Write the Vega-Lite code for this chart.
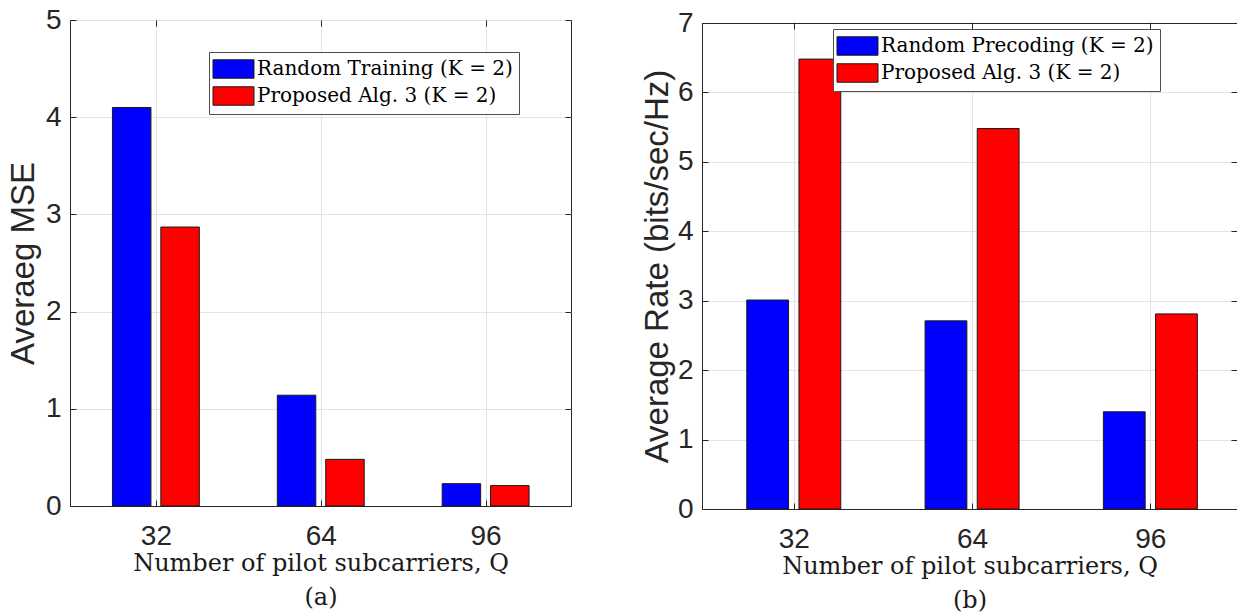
{
  "$schema": "https://vega.github.io/schema/vega-lite/v6.json",
  "autosize": {"type": "none"},
  "padding": {"left": 70, "top": 20, "right": 1167, "bottom": 592},
  "background": "white",
  "spacing": 131,
  "bounds": "flush",
  "config": {
    "view": {"stroke": "#262626", "strokeWidth": 1},
    "axis": {
      "labelFont": "Liberation Sans",
      "labelFontSize": 28,
      "labelColor": "#262626",
      "titleFont": "Liberation Sans",
      "titleFontSize": 33,
      "titleFontWeight": "normal",
      "titleColor": "#262626",
      "domainColor": "#262626",
      "tickColor": "#262626",
      "tickSize": -6,
      "gridColor": "#e3e3e3",
      "gridWidth": 1
    },
    "legend": {
      "orient": "none",
      "direction": "vertical",
      "title": null,
      "symbolType": "M-1.268,-0.9H2.732V0.9H-1.268Z",
      "symbolSize": 420,
      "symbolStrokeColor": "#1a1a1a",
      "symbolStrokeWidth": 1,
      "symbolOpacity": 1,
      "labelFont": "DejaVu Serif",
      "labelFontSize": 20,
      "labelColor": "#000000",
      "labelLimit": 500,
      "labelOffset": 20,
      "strokeColor": "#4d4d4d",
      "fillColor": "#ffffff",
      "padding": 6,
      "rowPadding": 3
    }
  },
  "hconcat": [
    {
      "width": 501,
      "height": 486,
      "data": {
        "values": [
          {"Q": 32, "series": "Random Training (K = 2)", "value": 4.1},
          {"Q": 64, "series": "Random Training (K = 2)", "value": 1.14},
          {"Q": 96, "series": "Random Training (K = 2)", "value": 0.23},
          {"Q": 32, "series": "Proposed Alg. 3 (K = 2)", "value": 2.87},
          {"Q": 64, "series": "Proposed Alg. 3 (K = 2)", "value": 0.48},
          {"Q": 96, "series": "Proposed Alg. 3 (K = 2)", "value": 0.21}
        ]
      },
      "encoding": {
        "color": {
          "field": "series",
          "type": "nominal",
          "sort": null,
          "scale": {
            "domain": ["Random Training (K = 2)", "Proposed Alg. 3 (K = 2)"],
            "range": ["#0000ff", "#ff0000"]
          },
          "legend": {"legendX": 139, "legendY": 32}
        }
      },
      "layer": [
        {
          "transform": [{"filter": "datum.series === 'Random Training (K = 2)'"}],
          "mark": {"type": "bar", "orient": "vertical", "width": 38.5, "xOffset": -24.2, "stroke": "#1a1a1a", "strokeWidth": 1},
          "encoding": {
            "x": {
              "field": "Q",
              "type": "quantitative",
              "scale": {"domain": [16.3, 111.6], "nice": false, "zero": false},
              "axis": {
                "values": [32, 64, 96],
                "format": "d",
                "labelPadding": 22,
                "title": ["Number of pilot subcarriers, Q", "(a)"],
                "titleFont": "DejaVu Serif",
                "titleFontSize": 24,
                "titleLineHeight": 34,
                "titlePadding": 1,
                "titleColor": "#1a1a1a"
              }
            },
            "y": {
              "field": "value",
              "type": "quantitative",
              "stack": null,
              "scale": {"domain": [0, 5], "nice": false},
              "axis": {
                "values": [0, 1, 2, 3, 4, 5],
                "labelPadding": 15,
                "title": "Averaeg MSE",
                "titlePadding": 5
              }
            }
          }
        },
        {
          "transform": [{"filter": "datum.series === 'Proposed Alg. 3 (K = 2)'"}],
          "mark": {"type": "bar", "orient": "vertical", "width": 38.5, "xOffset": 24.2, "stroke": "#1a1a1a", "strokeWidth": 1},
          "encoding": {
            "x": {
              "field": "Q",
              "type": "quantitative",
              "scale": {"domain": [16.3, 111.6], "nice": false, "zero": false},
              "axis": {"orient": "top", "values": [32, 64, 96], "labels": false, "title": null, "grid": false, "domain": false}
            },
            "y": {
              "field": "value",
              "type": "quantitative",
              "stack": null,
              "scale": {"domain": [0, 5], "nice": false},
              "axis": {"orient": "right", "values": [0, 1, 2, 3, 4, 5], "labels": false, "title": null, "grid": false, "domain": false}
            }
          }
        }
      ],
      "resolve": {"scale": {"x": "independent", "y": "independent"}, "axis": {"x": "independent", "y": "independent"}}
    },
    {
      "width": 535,
      "height": 489,
      "view": {"stroke": null},
      "data": {
        "values": [
          {"Q": 32, "series": "Random Precoding (K = 2)", "value": 3.01},
          {"Q": 64, "series": "Random Precoding (K = 2)", "value": 2.71},
          {"Q": 96, "series": "Random Precoding (K = 2)", "value": 1.4},
          {"Q": 32, "series": "Proposed Alg. 3 (K = 2)", "value": 6.48},
          {"Q": 64, "series": "Proposed Alg. 3 (K = 2)", "value": 5.48},
          {"Q": 96, "series": "Proposed Alg. 3 (K = 2)", "value": 2.81}
        ]
      },
      "encoding": {
        "color": {
          "field": "series",
          "type": "nominal",
          "sort": null,
          "scale": {
            "domain": ["Random Precoding (K = 2)", "Proposed Alg. 3 (K = 2)"],
            "range": ["#0000ff", "#ff0000"]
          },
          "legend": {"legendX": 131, "legendY": 9}
        }
      },
      "layer": [
        {
          "transform": [{"filter": "datum.series === 'Random Precoding (K = 2)'"}],
          "mark": {"type": "bar", "orient": "vertical", "width": 41.8, "xOffset": -26.1, "stroke": "#1a1a1a", "strokeWidth": 1},
          "encoding": {
            "x": {
              "field": "Q",
              "type": "quantitative",
              "scale": {"domain": [16.43, 110.65], "nice": false, "zero": false},
              "axis": {
                "values": [32, 64, 96],
                "format": "d",
                "labelPadding": 22,
                "title": ["Number of pilot subcarriers, Q", "(b)"],
                "titleFont": "DejaVu Serif",
                "titleFontSize": 24,
                "titleLineHeight": 34,
                "titlePadding": 1,
                "titleColor": "#1a1a1a"
              }
            },
            "y": {
              "field": "value",
              "type": "quantitative",
              "stack": null,
              "scale": {"domain": [0, 7], "nice": false, "range": [489, 3]},
              "axis": {
                "values": [0, 1, 2, 3, 4, 5, 6, 7],
                "labelPadding": 15,
                "title": "Average Rate (bits/sec/Hz)",
                "titlePadding": 3
              }
            }
          }
        },
        {
          "transform": [{"filter": "datum.series === 'Proposed Alg. 3 (K = 2)'"}],
          "mark": {"type": "bar", "orient": "vertical", "width": 41.8, "xOffset": 26.1, "stroke": "#1a1a1a", "strokeWidth": 1},
          "encoding": {
            "x": {
              "field": "Q",
              "type": "quantitative",
              "scale": {"domain": [16.43, 110.65], "nice": false, "zero": false},
              "axis": {"orient": "top", "offset": -3, "values": [32, 64, 96], "labels": false, "title": null, "grid": false, "domain": true}
            },
            "y": {
              "field": "value",
              "type": "quantitative",
              "stack": null,
              "scale": {"domain": [0, 7], "nice": false, "range": [489, 3]},
              "axis": {"orient": "right", "values": [0, 1, 2, 3, 4, 5, 6, 7], "labels": false, "title": null, "grid": false, "domain": false}
            }
          }
        }
      ],
      "resolve": {"scale": {"x": "independent", "y": "independent"}, "axis": {"x": "independent", "y": "independent"}}
    }
  ],
  "resolve": {"scale": {"color": "independent", "x": "independent", "y": "independent"}}
}
